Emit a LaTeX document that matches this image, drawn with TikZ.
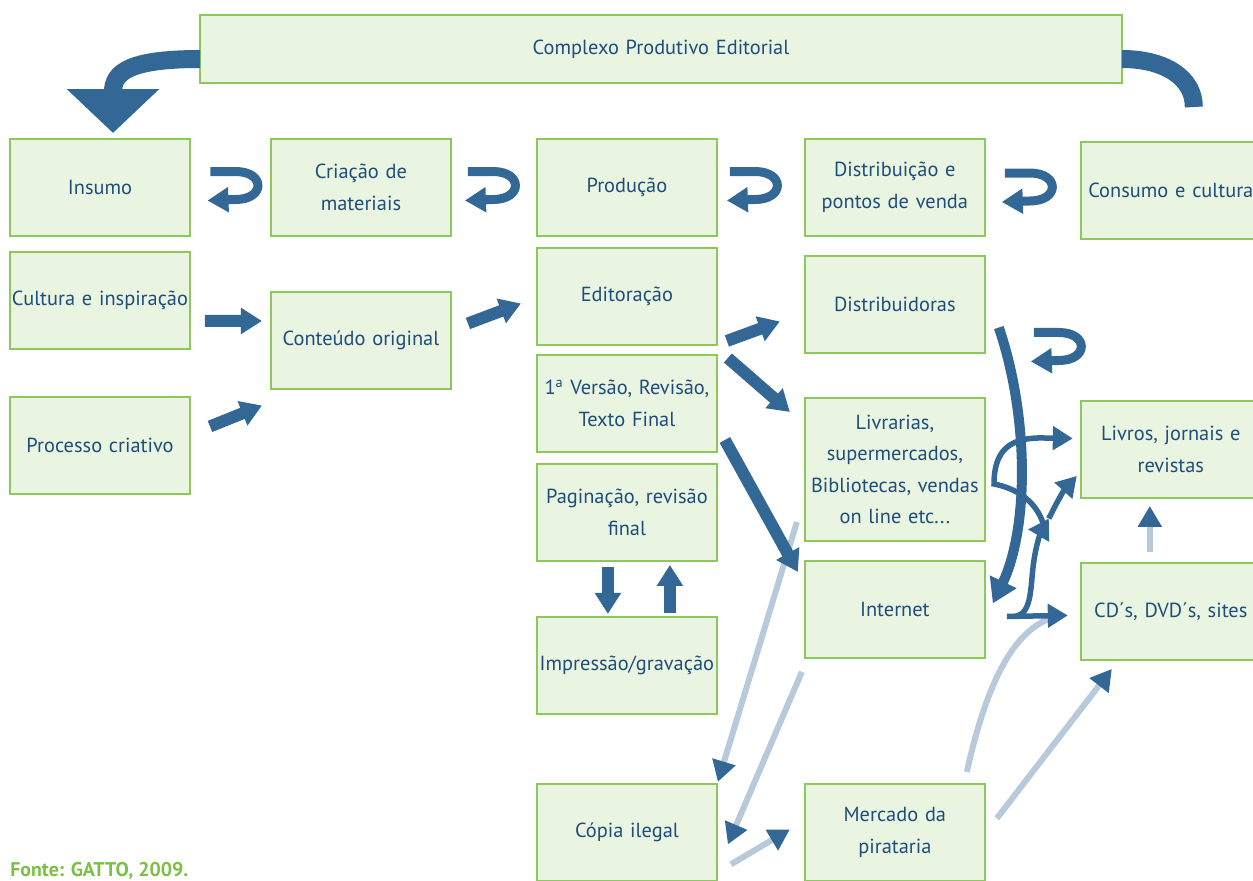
\documentclass[tikz,border=0pt]{standalone}
\usepackage{fontspec}
\setmainfont{PT Sans}
\usetikzlibrary{arrows.meta,positioning,calc}

\definecolor{boxfill}{HTML}{E9F5E1}
\definecolor{boxline}{HTML}{8DC85B}
\definecolor{textblue}{HTML}{1E4D7B}
\definecolor{arrowblue}{HTML}{336896}
\definecolor{paleblue}{HTML}{B7C9DA}
\definecolor{sourcegreen}{HTML}{7AC143}

\begin{document}
\begin{tikzpicture}
[x=0.02cm, y=-0.02cm,
stagebox/.style={draw=boxline, fill=boxfill, line width=0.8pt, minimum width=3.6cm,
  minimum height=1.94cm, text width=3.56cm, inner sep=0pt, outer sep=0pt, align=center,
  text=textblue, font=\fontsize{11.6}{18}\selectfont},
thickarrow/.style={draw=arrowblue, line width=0.24cm, -{Triangle[width=0.5cm,length=0.42cm]}},
bendarrow/.style={draw=arrowblue, line width=0.2cm, -{Triangle[width=0.56cm,length=0.48cm]}},
thinarrow/.style={draw=arrowblue, line width=0.11cm, -{Triangle[width=0.46cm,length=0.4cm]}},
palearrow/.style={draw=paleblue, line width=0.12cm, -{Triangle[width=0.46cm,length=0.42cm,color=arrowblue]}},
paleline/.style={draw=paleblue, line width=0.12cm},
bandarrow/.style={draw=arrowblue, line width=0.36cm, -{Triangle[width=1.8cm,length=0.88cm]}},
bandline/.style={draw=arrowblue, line width=0.36cm},
hookarrow/.pic={\draw[arrowblue, line width=0.18cm, -{Triangle[width=0.48cm,length=0.42cm]}]
  (-25,-17) -- (0,-17) .. controls (30,-17) and (30,11) .. (0,11) -- (-28,12);}
]
  \useasboundingbox (0,0) rectangle (1253,880);

  \node[stagebox, minimum width=18.44cm, minimum height=1.36cm, text width=18cm]
                        (complexo) at (661,49) {Complexo Produtivo Editorial};
  \node[stagebox]       (insumo)   at (100,187.5) {Insumo};
  \node[stagebox]       (criacao)  [right=1.62cm of insumo] {Criação de\\materiais};
  \node[stagebox]       (producao) [right=1.72cm of criacao] {Produção};
  \node[stagebox]       (distrib)  [right=1.76cm of producao] {Distribuição e\\pontos de venda};
  \node[stagebox]       (consumo)  [right=1.92cm of distrib, yshift=-0.06cm] {Consumo e cultura};
  \node[stagebox]       (cultura)  [below=0.32cm of insumo] {Cultura e inspiração};
  \node[stagebox]       (processo) [below=0.96cm of cultura] {Processo criativo};
  \node[stagebox]       (conteudo) [below=1.12cm of criacao] {Conteúdo original};
  \node[stagebox]       (editoracao) [below=0.24cm of producao] {Editoração};
  \node[stagebox]       (versao)   [below=0.2cm of editoracao] {1\textsuperscript{a} Versão, Revisão,\\Texto Final};
  \node[stagebox]       (paginacao) [below=0.24cm of versao] {Paginação, revisão\\final};
  \node[stagebox]       (impressao) [below=1.12cm of paginacao] {Impressão/gravação};
  \node[stagebox]       (copia)    [below=1.4cm of impressao] {Cópia ilegal};
  \node[stagebox]       (distribuidoras) [below=0.4cm of distrib] {Distribuidoras};
  \node[stagebox, minimum height=2.86cm] (livrarias) [below=0.9cm of distribuidoras]
                        {Livrarias,\\supermercados,\\Bibliotecas, vendas\\on line etc...};
  \node[stagebox]       (internet) [below=0.4cm of livrarias] {Internet};
  \node[stagebox]       (mercado)  [below=2.52cm of internet] {Mercado da\\pirataria};
  \node[stagebox]       (livros)   [below=3.24cm of consumo] {Livros, jornais e\\revistas};
  \node[stagebox]       (cds)      [below=1.3cm of livros] {CD´s, DVD´s, sites};
  \node[anchor=base west, inner sep=0pt, text=sourcegreen, font=\bfseries\fontsize{11.3}{13}\selectfont]
                        (fonte) at (10,876) {Fonte: GATTO, 2009.};

  \draw[bandarrow] ([shift={(0,10)}]complexo.west) .. controls (130,59) and (113,72) .. ([shift={(13,-6)}]insumo.north);
  \draw[bandline] ([shift={(0,10)}]complexo.east) .. controls (1165,59) and (1194,78) .. ([shift={(23,-35)}]consumo.north);

  \pic at ($(insumo.east)!0.5!(criacao.west)+(5,1)$) {hookarrow};
  \pic at ($(criacao.east)!0.5!(producao.west)+(-1,1)$) {hookarrow};
  \pic at ($(producao.east)!0.5!(distrib.west)+(-6,1)$) {hookarrow};
  \pic at ($(distrib.east)!0.5!(consumo.west)+(-3,1)$) {hookarrow};
  \pic at ([shift={(74,45)}]distribuidoras.east) {hookarrow};

  \path
	([shift={(-8,-19)}]livrarias.south west) edge[palearrow] ([shift={(1,-2)}]copia.north east)
	([shift={(-3,14)}]internet.south west) edge[palearrow] ([shift={(11,12)}]copia.east)
	([shift={(14,32)}]copia.east) edge[palearrow] ([shift={(-15,-3)}]mercado.west)
	([shift={(12,-14)}]mercado.east) edge[palearrow] ([shift={(31,9)}]cds.south west)
	([shift={(-21,-11)}]cds.north) edge[palearrow] ([shift={(-21,8)}]livros.south)
    ;
  \draw[paleline] ([shift={(-18,-12)}]mercado.north east) .. controls (985,690) and (1010,635) .. ([shift={(-33,8)}]cds.west);

  \path
	([shift={(15,20.5)}]cultura.east) edge[thickarrow] ([shift={(-9,-19.5)}]conteudo.west)
	([shift={(20,-19)}]processo.east) edge[thickarrow] ([shift={(-9,65)}]conteudo.west)
	([shift={(17,-17)}]conteudo.east) edge[thickarrow] ([shift={(-16,7)}]editoracao.west)
	([shift={(10,-4)}]editoracao.south east) edge[thickarrow] ([shift={(-25,17)}]distribuidoras.west)
	([shift={(11,3)}]versao.north east) edge[thickarrow] ([shift={(-15,14)}]livrarias.north west)
	([shift={(8,-12)}]versao.south east) edge[thickarrow] ([shift={(-7,11)}]internet.north west)
	([shift={(-19,6)}]paginacao.south) edge[thickarrow] ([shift={(-19,-3)}]impressao.north)
	([shift={(43,-4)}]impressao.north) edge[thickarrow] ([shift={(43,4)}]paginacao.south)
	([shift={(22,7)}]internet.east) edge[thinarrow] ([shift={(-13,4)}]cds.west)
    ;

  \draw[bendarrow] ([shift={(14,23)}]distribuidoras.east) .. controls (1030,420) and (1028,530) .. ([shift={(8,-6)}]internet.east);
  \coordinate (junction) at ([shift={(64,49)}]livrarias.east);
  \draw[thinarrow] ([shift={(30,7)}]internet.east) .. controls (1033,614) and (1030,585) .. (1034,560)
    .. controls (1037,540) and (1042,530) .. (junction);
  \draw[thinarrow] (junction) .. controls (1058,500) and (1064,490) .. ([shift={(-4,-22)}]livros.south west);
  \draw[thinarrow] ([shift={(-6,4)}]junction) .. controls (1035,500) and (1015,488) .. (994,484)
    .. controls (994,448) and (1012,437) .. (1045,438) -- ([shift={(-8,-11)}]livros.west);
\end{tikzpicture}
\end{document}
